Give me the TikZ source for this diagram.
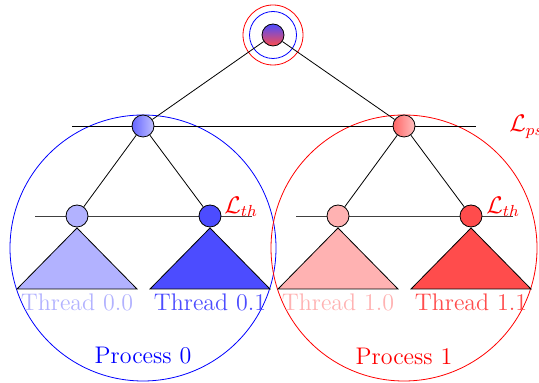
\documentclass[tikz,border=0pt]{standalone}
\usepackage{amsmath}
\begin{document}
\begin{tikzpicture}[x=0.5pt,y=-0.5pt,
  vtx/.style={circle,draw=black,minimum size=11pt,inner sep=0pt},
  tri/.style={draw=black},
  lvl/.style={black!75},
  lab/.style={inner sep=0pt,font=\large}]
\useasboundingbox (0,0) rectangle (539,383);
% process circles
\draw[blue] (143,248) circle [radius=66.5pt];
\draw[red] (404,248) circle [radius=66.5pt];
% level lines
\coordinate (psl) at (72,126);
\coordinate (psr) at (476,126);
\draw (psl) -- (psr);
\coordinate (thl0) at (35,216);
\coordinate (thr0) at (252,216);
\coordinate (thl1) at (296,216);
\coordinate (thr1) at (513,216);
\draw[lvl] (thl0) -- (thr0);
\draw[lvl] (thl1) -- (thr1);
% nodes
\node[vtx,top color=blue!70,bottom color=red!70] (root) at (273,35) {};
\draw[blue] (root) circle [radius=11.75pt];
\draw[red] (root) circle [radius=15pt];
\node[vtx,left color=blue!60,right color=blue!25] (p0) at (143,126) {};
\node[vtx,left color=red!60,right color=red!25] (p1) at (404,126) {};
\draw (root) -- (p0);
\draw (root) -- (p1);
% triangles
\filldraw[tri,fill=blue!30] (77,228) -- (17,289) -- (137,289) -- cycle;
\filldraw[tri,fill=blue!70] (210,228) -- (150,289) -- (270,289) -- cycle;
\filldraw[tri,fill=red!30] (338,228) -- (278,289) -- (398,289) -- cycle;
\filldraw[tri,fill=red!70] (471,228) -- (411,289) -- (531,289) -- cycle;
\node[vtx,fill=blue!30] (t00) at (77,216) {};
\node[vtx,fill=blue!70] (t01) at (210,216) {};
\node[vtx,fill=red!30] (t10) at (338,216) {};
\node[vtx,fill=red!70] (t11) at (471,216) {};
\draw (p0) -- (t00);
\draw (p0) -- (t01);
\draw (p1) -- (t10);
\draw (p1) -- (t11);
% labels
\node[lab,red,anchor=west] (lps) at (509,127) {$\mathcal{L}_{ps}$};
\node[lab,red,anchor=west] (lth0) at (224,207) {$\mathcal{L}_{th}$};
\node[lab,red,anchor=west] (lth1) at (486,207) {$\mathcal{L}_{th}$};
\node[lab,blue!30] (n00) at (77,302) {Thread 0.0};
\node[lab,blue!70] (n01) at (210,302) {Thread 0.1};
\node[lab,red!30] (n10) at (338,302) {Thread 1.0};
\node[lab,red!70] (n11) at (471,302) {Thread 1.1};
\node[lab,blue] (pr0) at (143,356) {Process 0};
\node[lab,red] (pr1) at (404,356) {Process 1};
\end{tikzpicture}
\end{document}
